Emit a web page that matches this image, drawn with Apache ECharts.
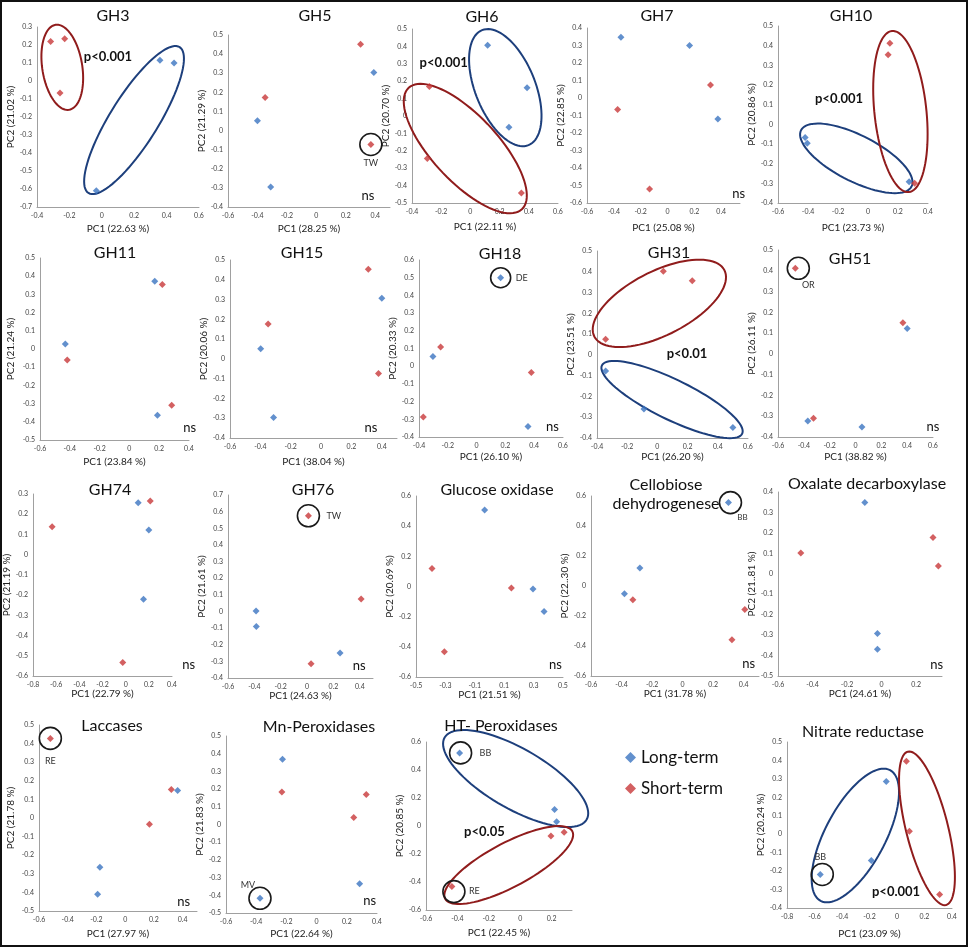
<!DOCTYPE html>
<html>
<head>
<meta charset="utf-8">
<script src="https://cdn.jsdelivr.net/npm/echarts@6/dist/echarts.min.js"></script>
<style>
  html, body { margin: 0; padding: 0; background: #fff; }
  #chart { width: 970px; height: 948px; }
</style>
</head>
<body>
<div id="chart"></div>
<script>
// ─── Datos: [PC1, PC2] por panel ───────────────────────────────────────────────
const gh3Long   = [[0.359, 0.115], [0.446, 0.100], [-0.034, -0.610]]
const gh3Short  = [[-0.316, 0.220], [-0.229, 0.235], [-0.258, -0.067]]
const gh5Long   = [[-0.400, 0.051], [0.390, 0.304], [-0.310, -0.295]]
const gh5Short  = [[-0.348, 0.173], [0.300, 0.451], [0.370, -0.073]]
const gh6Long   = [[0.118, 0.406], [0.388, 0.163], [0.264, -0.065]]
const gh6Short  = [[-0.281, 0.169], [-0.295, -0.244], [0.349, -0.442]]
const gh7Long   = [[-0.347, 0.347], [0.164, 0.300], [0.375, -0.120]]
const gh7Short  = [[-0.372, -0.065], [-0.134, -0.520], [0.320, 0.074]]
const gh10Long  = [[-0.419, -0.067], [-0.405, -0.096], [0.274, -0.292]]
const gh10Short = [[0.146, 0.412], [0.134, 0.354], [0.311, -0.299]]
const gh11Long  = [[-0.430, 0.028], [0.170, 0.372], [0.188, -0.364]]
const gh11Short = [[-0.417, -0.061], [0.221, 0.355], [0.284, -0.309]]
const gh15Long  = [[-0.398, 0.051], [0.400, 0.307], [-0.313, -0.296]]
const gh15Short = [[-0.349, 0.176], [0.311, 0.453], [0.378, -0.074]]
const gh18Long  = [[0.167, 0.500], [-0.303, 0.055], [0.357, -0.340]]
const gh18Short = [[-0.250, 0.108], [-0.370, -0.287], [0.380, -0.035]]
const gh31Long  = [[-0.343, -0.077], [-0.089, -0.261], [0.500, -0.349]]
const gh31Short = [[-0.343, 0.075], [0.039, 0.402], [0.231, 0.357]]
const gh51Long  = [[0.400, 0.122], [-0.369, -0.323], [0.050, -0.352]]
const gh51Short = [[-0.466, 0.412], [0.367, 0.150], [-0.325, -0.310]]
const gh74Long  = [[0.108, 0.257], [0.200, 0.122], [0.154, -0.220]]
const gh74Short = [[-0.635, 0.138], [0.212, 0.265], [-0.025, -0.533]]
const gh76Long  = [[-0.387, 0.003], [-0.385, -0.091], [0.250, -0.250]]
const gh76Short = [[0.010, 0.575], [0.410, 0.075], [0.030, -0.315]]
const goxLong   = [[-0.033, 0.507], [0.296, -0.017], [0.371, -0.165]]
const goxShort  = [[-0.391, 0.120], [-0.307, -0.433], [0.149, -0.010]]
const cdhLong   = [[0.300, 0.556], [-0.280, 0.120], [-0.381, -0.051]]
const cdhShort  = [[-0.326, -0.091], [0.407, -0.156], [0.323, -0.358]]
const oxdLong   = [[-0.097, 0.349], [-0.024, -0.292], [-0.024, -0.369]]
const oxdShort  = [[-0.468, 0.102], [0.298, 0.177], [0.329, 0.038]]
const lacLong   = [[0.365, 0.148], [-0.176, -0.265], [-0.192, -0.410]]
const lacShort  = [[-0.521, 0.428], [0.321, 0.153], [0.169, -0.033]]
const mnpLong   = [[-0.226, 0.368], [-0.375, -0.417], [0.285, -0.335]]
const mnpShort  = [[-0.230, 0.184], [0.329, 0.169], [0.246, 0.039]]
const htpLong   = [[-0.386, 0.522], [0.219, 0.118], [0.232, 0.030]]
const htpShort  = [[-0.435, -0.433], [0.196, -0.071], [0.280, -0.045]]
const nirLong   = [[-0.078, 0.286], [-0.187, -0.142], [-0.558, -0.218]]
const nirShort  = [[0.068, 0.396], [0.090, 0.016], [0.310, -0.327]]

const seriesNames = ['Long-term', 'Short-term']

// ─── Estilo ────────────────────────────────────────────────────────────────────
const FONT      = 'Lato, "Open Sans", sans-serif'
const BLUE      = '#3b74c0'
const RED       = '#c8383a'
const DARK_BLUE = '#1d3f7c'
const DARK_RED  = '#901c1c'

// box: [left, top, right, bottom] en px; x / y: [min, max, paso de etiquetas]
const panels = [
  { title: 'GH3', tx: 113, ty: 16, box: [37, 27, 199, 207], x: [-0.4, 0.6, 0.2], y: [-0.7, 0.3, 0.1],
    xName: 'PC1 (22.63 %)', yName: 'PC2 (21.02 %)', xGap: 17, yGap: 21, long: gh3Long, short: gh3Short,
    notes: [
      { kind: 'ellipse', x: -0.244, y: 0.076, a: 43, b: 20, ang: 81, color: DARK_RED },
      { kind: 'ellipse', x: 0.199, y: -0.217, a: 86, b: 24, ang: -58, color: DARK_BLUE },
      { kind: 'text', x: 0.038, y: 0.133, text: 'p<0.001', bold: true },
    ] },
  { title: 'GH5', tx: 315, ty: 16, box: [228, 35, 390, 207], x: [-0.6, 0.5, 0.2], y: [-0.4, 0.5, 0.1],
    xName: 'PC1 (28.25 %)', yName: 'PC2 (21.29 %)', xGap: 17, yGap: 15, long: gh5Long, short: gh5Short,
    notes: [
      { kind: 'circle', x: 0.37, y: -0.073, r: 11, label: 'TW', lx: 0, ly: 19 },
      { kind: 'text', x: 0.35, y: -0.34, text: 'ns' },
    ] },
  { title: 'GH6', tx: 482, ty: 17, box: [412, 29, 558, 203], x: [-0.4, 0.6, 0.2], y: [-0.5, 0.5, 0.1],
    xName: 'PC1 (22.11 %)', yName: 'PC2 (20.70 %)', xGap: 19, yGap: 21, long: gh6Long, short: gh6Short,
    notes: [
      { kind: 'ellipse', x: -0.035, y: -0.187, a: 83, b: 33, ang: 47, color: DARK_RED },
      { kind: 'ellipse', x: 0.239, y: 0.163, a: 62, b: 30, ang: 68, color: DARK_BLUE },
      { kind: 'text', x: -0.183, y: 0.304, text: 'p<0.001', bold: true },
    ] },
  { title: 'GH7', tx: 657, ty: 16, box: [587, 28, 740, 203], x: [-0.6, 0.54, 0.2], y: [-0.6, 0.4, 0.1],
    xName: 'PC1 (25.08 %)', yName: 'PC2 (22.85 %)', xGap: 20, yGap: 14, long: gh7Long, short: gh7Short,
    notes: [{ kind: 'text', x: 0.53, y: -0.547, text: 'ns' }] },
  { title: 'GH10', tx: 851, ty: 16, box: [778, 26, 928, 203], x: [-0.6, 0.4, 0.2], y: [-0.4, 0.5, 0.1],
    xName: 'PC1 (23.73 %)', yName: 'PC2 (20.86 %)', xGap: 20, yGap: 20, long: gh10Long, short: gh10Short,
    notes: [
      { kind: 'ellipse', x: -0.078, y: -0.173, a: 62, b: 23, ang: 27, color: DARK_BLUE },
      { kind: 'ellipse', x: 0.216, y: 0.065, a: 81, b: 26, ang: 84, color: DARK_RED },
      { kind: 'text', x: -0.193, y: 0.128, text: 'p<0.001', bold: true },
    ] },

  { title: 'GH11', tx: 115, ty: 253, box: [40, 258, 189, 440], x: [-0.6, 0.4, 0.2], y: [-0.5, 0.5, 0.1],
    xName: 'PC1 (23.84 %)', yName: 'PC2 (21.24 %)', xGap: 17, yGap: 24, long: gh11Long, short: gh11Short,
    notes: [{ kind: 'text', x: 0.404, y: -0.432, text: 'ns' }] },
  { title: 'GH15', tx: 302, ty: 253, box: [230, 260, 397, 438], x: [-0.6, 0.5, 0.2], y: [-0.4, 0.5, 0.1],
    xName: 'PC1 (38.04 %)', yName: 'PC2 (20.06 %)', xGap: 19, yGap: 20, long: gh15Long, short: gh15Short,
    notes: [{ kind: 'text', x: 0.329, y: -0.35, text: 'ns' }] },
  { title: 'GH18', tx: 500, ty: 254, box: [419, 260, 563, 437], x: [-0.4, 0.6, 0.2], y: [-0.4, 0.6, 0.1],
    xName: 'PC1 (26.10 %)', yName: 'PC2 (20.33 %)', xGap: 15, yGap: 21, long: gh18Long, short: gh18Short,
    notes: [
      { kind: 'circle', x: 0.167, y: 0.5, r: 10, label: 'DE', lx: 15, ly: 0, align: 'left' },
      { kind: 'text', x: 0.526, y: -0.344, text: 'ns' },
    ] },
  { title: 'GH31', tx: 669, ty: 253, box: [597, 251, 748, 438], x: [-0.4, 0.6, 0.2], y: [-0.4, 0.5, 0.1],
    xName: 'PC1 (26.20 %)', yName: 'PC2 (23.51 %)', xGap: 14, yGap: 18, long: gh31Long, short: gh31Short,
    notes: [
      { kind: 'ellipse', x: 0.013, y: 0.248, a: 73, b: 32, ang: -27, color: DARK_RED },
      { kind: 'ellipse', x: 0.097, y: -0.215, a: 78, b: 20, ang: 26, color: DARK_BLUE },
      { kind: 'text', x: 0.196, y: 0.005, text: 'p<0.01', bold: true },
    ] },
  { title: 'GH51', tx: 850, ty: 259, box: [778, 250, 933, 437], x: [-0.6, 0.6, 0.2], y: [-0.4, 0.5, 0.1],
    xName: 'PC1 (38.82 %)', yName: 'PC2 (26.11 %)', xGap: 15, yGap: 20, long: gh51Long, short: gh51Short,
    notes: [
      { kind: 'circle', x: -0.466, y: 0.412, dx: 3, r: 11, label: 'OR', lx: 13, ly: 17 },
      { kind: 'text', x: 0.6, y: -0.352, text: 'ns' },
    ] },

  { title: 'GH74', tx: 110, ty: 490, box: [33, 494, 172, 676], x: [-0.8, 0.4, 0.2], y: [-0.6, 0.3, 0.1],
    xName: 'PC1 (22.79 %)', yName: 'PC2 (21.19 %)', xGap: 12, yGap: 16, long: gh74Long, short: gh74Short,
    notes: [{ kind: 'text', x: 0.544, y: -0.545, text: 'ns' }] },
  { title: 'GH76', tx: 313, ty: 490, box: [228, 495, 373, 678], x: [-0.6, 0.5, 0.2], y: [-0.4, 0.7, 0.1],
    xName: 'PC1 (24.63 %)', yName: 'PC2 (21.61 %)', xGap: 10, yGap: 20, long: gh76Long, short: gh76Short,
    notes: [
      { kind: 'circle', x: 0.01, y: 0.575, r: 11, label: 'TW', lx: 18, ly: 0, align: 'left' },
      { kind: 'text', x: 0.395, y: -0.324, text: 'ns' },
    ] },
  { title: 'Glucose oxidase', tx: 497, ty: 490, box: [416, 496, 563, 677], x: [-0.5, 0.5, 0.2], y: [-0.6, 0.6, 0.2],
    xName: 'PC1 (21.51 %)', yName: 'PC2 (20.69 %)', xGap: 11, yGap: 17, long: goxLong, short: goxShort,
    notes: [{ kind: 'text', x: 0.448, y: -0.522, text: 'ns' }] },
  { title: 'Cellobiose\ndehydrogenese', tx: 666, ty: 494, box: [591, 496, 759, 676], x: [-0.6, 0.5, 0.2], y: [-0.6, 0.6, 0.2],
    xName: 'PC1 (31.78 %)', yName: 'PC2 (22..30 %)', xGap: 12, yGap: 17, long: cdhLong, short: cdhShort,
    notes: [
      { kind: 'circle', x: 0.30, y: 0.556, dx: 2, r: 11, label: 'BB', lx: 14, ly: 15, small: true },
      { kind: 'text', x: 0.433, y: -0.522, text: 'ns' },
    ] },
  { title: 'Oxalate decarboxylase', tx: 867, ty: 484, box: [778, 492, 942, 676], x: [-0.6, 0.35, 0.2], y: [-0.5, 0.4, 0.1],
    xName: 'PC1 (24.61 %)', yName: 'PC2 (21..81 %)', xGap: 12, yGap: 17, long: oxdLong, short: oxdShort,
    notes: [{ kind: 'text', x: 0.319, y: -0.443, text: 'ns' }] },

  { title: 'Laccases', tx: 112, ty: 726, box: [39, 725, 197, 911], x: [-0.6, 0.5, 0.2], y: [-0.5, 0.5, 0.1],
    xName: 'PC1 (27.97 %)', yName: 'PC2 (21.78 %)', xGap: 18, yGap: 23, long: lacLong, short: lacShort,
    notes: [
      { kind: 'circle', x: -0.521, y: 0.428, r: 11, label: 'RE', lx: 0, ly: 23 },
      { kind: 'text', x: 0.407, y: -0.448, text: 'ns' },
    ] },
  { title: 'Mn-Peroxidases', tx: 319, ty: 727, box: [226, 736, 377, 913], x: [-0.6, 0.4, 0.2], y: [-0.5, 0.5, 0.1],
    xName: 'PC1 (22.64 %)', yName: 'PC2 (21.83 %)', xGap: 16, yGap: 13, long: mnpLong, short: mnpShort,
    notes: [
      { kind: 'circle', x: -0.375, y: -0.417, r: 11, label: 'MV', lx: -12, ly: -13 },
      { kind: 'text', x: 0.352, y: -0.43, text: 'ns' },
    ] },
  { title: 'HT- Peroxidases', tx: 501, ty: 726, box: [426, 742, 572, 910], x: [-0.6, 0.33, 0.2], y: [-0.6, 0.6, 0.2],
    xName: 'PC1 (22.45 %)', yName: 'PC2 (20.85 %)', xGap: 18, yGap: 19, long: htpLong, short: htpShort,
    notes: [
      { kind: 'ellipse', x: -0.029, y: 0.339, a: 82, b: 30, ang: 30, color: DARK_BLUE },
      { kind: 'ellipse', x: -0.073, y: -0.279, a: 72, b: 22, ang: -28, color: DARK_RED },
      { kind: 'circle', x: -0.386, y: 0.522, dx: 1, r: 11, label: 'BB', lx: 20, ly: 0, align: 'left' },
      { kind: 'circle', x: -0.435, y: -0.433, dx: 2, dy: 5, r: 11, label: 'RE', lx: 17, ly: 4, align: 'left' },
      { kind: 'text', x: -0.228, y: -0.041, text: 'p<0.05', bold: true },
    ] },
  { title: 'Nitrate reductase', tx: 863, ty: 732, box: [787, 742, 952, 908], x: [-0.8, 0.4, 0.2], y: [-0.4, 0.5, 0.1],
    xName: 'PC1 (23.09 %)', yName: 'PC2 (20.24 %)', xGap: 21, yGap: 14, long: nirLong, short: nirShort,
    notes: [
      { kind: 'ellipse', x: -0.303, y: -0.007, a: 74, b: 30, ang: -62, color: DARK_BLUE },
      { kind: 'ellipse', x: 0.218, y: 0.032, a: 79, b: 21, ang: 76, color: DARK_RED },
      { kind: 'circle', x: -0.558, y: -0.218, dx: 2, r: 11, label: 'BB', lx: 0, ly: -17 },
      { kind: 'text', x: -0.007, y: -0.31, text: 'p<0.001', bold: true },
    ] },
]

// ─── Helpers ───────────────────────────────────────────────────────────────────

// Muestra solo las etiquetas que caen en el paso del panel (Excel-like)
function labelFmt(min, step) {
  return v => {
    const r = (v - min) / step
    return Math.abs(r - Math.round(r)) < 1e-6 ? String(+v.toFixed(2)) : ''
  }
}

function drawNote(n, pt) {
  const cx = pt[0] + (n.dx || 0), cy = pt[1] + (n.dy || 0)
  if (n.kind === 'ellipse') {
    const t = n.ang * Math.PI / 180, pts = []
    for (let k = 0; k < 90; k++) {
      const s = k / 90 * 2 * Math.PI
      pts.push([
        cx + n.a * Math.cos(s) * Math.cos(t) - n.b * Math.sin(s) * Math.sin(t),
        cy + n.a * Math.cos(s) * Math.sin(t) + n.b * Math.sin(s) * Math.cos(t),
      ])
    }
    return { type: 'polygon', shape: { points: pts }, style: { fill: 'none', stroke: n.color, lineWidth: 2 } }
  }
  if (n.kind === 'circle') {
    const children = [{ type: 'circle', shape: { cx, cy, r: n.r }, style: { fill: 'none', stroke: '#1a1a1a', lineWidth: 1.6 } }]
    if (n.label) children.push({
      type: 'text', x: pt[0] + n.lx, y: pt[1] + n.ly,
      style: { text: n.label, fill: '#333', font: `${n.small ? 8 : 9}px ${FONT}`, align: n.align || 'center', verticalAlign: 'middle' },
    })
    return { type: 'group', children }
  }
  return {
    type: 'text', x: cx, y: cy,
    style: { text: n.text, fill: '#111', font: `${n.bold ? 'bold ' : ''}13px ${FONT}`, align: 'center', verticalAlign: 'middle' },
  }
}

// ─── Opción ────────────────────────────────────────────────────────────────────
const grid = [], xAxis = [], yAxis = [], series = [], title = []
const axisBase = {
  type: 'value', interval: 0.1,
  axisLine: { onZero: false, lineStyle: { color: '#a0a0a0', width: 1 } },
  axisTick: { show: false }, splitLine: { show: false },
  nameLocation: 'middle',
  nameTextStyle: { fontSize: 10, color: '#222', fontFamily: FONT },
}

panels.forEach((p, i) => {
  const [l, t, r, b] = p.box
  grid.push({ left: l, top: t, width: r - l, height: b - t })
  xAxis.push({
    ...axisBase, gridIndex: i, min: p.x[0], max: p.x[1],
    name: p.xName, nameGap: p.xGap,
    axisLabel: { formatter: labelFmt(p.x[0], p.x[2]), fontSize: 7, color: '#444', margin: 5, fontFamily: FONT },
  })
  yAxis.push({
    ...axisBase, gridIndex: i, min: p.y[0], max: p.y[1],
    name: p.yName, nameGap: p.yGap,
    axisLabel: { formatter: labelFmt(p.y[0], p.y[2]), fontSize: 7, color: '#444', margin: 5, fontFamily: FONT },
  })
  title.push({
    text: p.title, left: p.tx, top: p.ty, padding: 0,
    textAlign: 'center', textVerticalAlign: 'middle',
    textStyle: { fontSize: 16, fontWeight: 'normal', color: '#111', fontFamily: FONT, lineHeight: 19 },
  })
  series.push({
    type: 'custom', xAxisIndex: i, yAxisIndex: i, silent: true, z: 3,
    data: p.notes.map(n => [n.x, n.y]),
    renderItem: (params, api) => drawNote(p.notes[params.dataIndex], api.coord([api.value(0), api.value(1)])),
  })
  series.push({
    type: 'scatter', name: seriesNames[0], xAxisIndex: i, yAxisIndex: i, z: 4,
    data: p.long, symbol: 'diamond', symbolSize: 7, itemStyle: { color: BLUE },
  })
  series.push({
    type: 'scatter', name: seriesNames[1], xAxisIndex: i, yAxisIndex: i, z: 4,
    data: p.short, symbol: 'diamond', symbolSize: 7, itemStyle: { color: RED },
  })
})

const option = {
  animation: false,
  backgroundColor: '#fff',
  title, grid, xAxis, yAxis, series,
  legend: {
    data: seriesNames.map(name => ({ name, icon: 'diamond' })),
    orient: 'vertical', left: 625, top: 749, padding: 0,
    itemWidth: 11, itemHeight: 11, itemGap: 14, selectedMode: false,
    textStyle: { fontSize: 17, color: '#111', fontFamily: FONT },
  },
  graphic: [{
    type: 'rect', shape: { x: 1, y: 1, width: 966, height: 945 },
    style: { fill: 'none', stroke: '#111', lineWidth: 2 }, silent: true,
  }],
}

const chart = echarts.init(document.getElementById('chart'))
chart.setOption(option)
</script>
</body>
</html>
